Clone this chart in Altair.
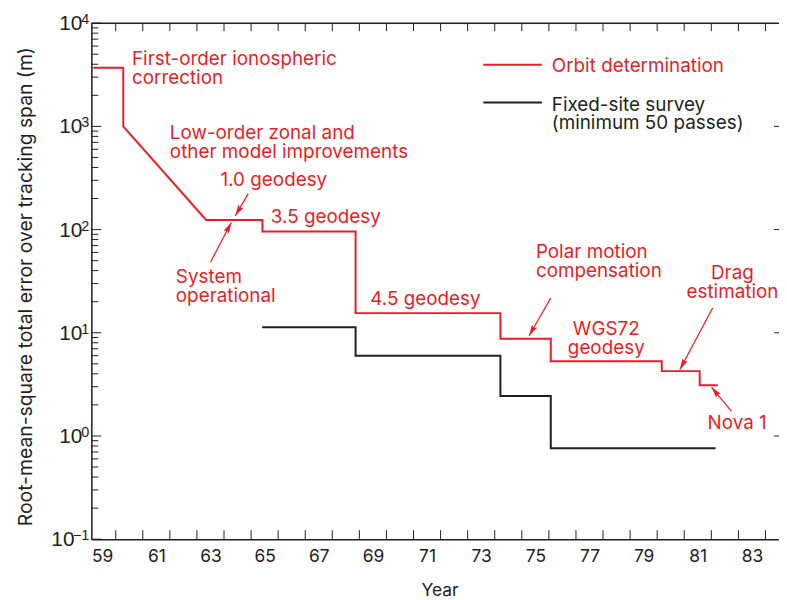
import math
import altair as alt
import pandas as pd

RED = "#ec1c24"
INK = "#231f20"
FONT = "Inter"

# ---- series (year, rms error in m) ----
orbit_year = [58.67, 59.78, 59.78, 62.84, 64.92, 64.92, 68.36, 68.36, 73.71,
              73.71, 75.57, 75.57, 79.67, 79.67, 81.07, 81.07, 81.74]
orbit_err = [3700, 3700, 1000, 124, 124, 96, 96, 15.5, 15.5,
             8.75, 8.75, 5.3, 5.3, 4.25, 4.25, 3.1, 3.1]
survey_year = [64.91, 68.36, 68.36, 73.71, 73.71, 75.57, 75.57, 81.66]
survey_err = [11.3, 11.3, 6.0, 6.0, 2.44, 2.44, 0.76, 0.76]

series_keys = ["orbit", "survey"]
series_labels = ["Orbit determination", "Fixed-site survey\n(minimum 50 passes)"]
series_colors = [RED, INK]

# ---- axes ----
x_domain = [58.6, 84.0]
y_domain = [0.1, 10000]
x_label_years = [59, 61, 63, 65, 67, 69, 71, 73, 75, 77, 79, 81, 83]
x_tick_years = [59.5, 60.5, 61.5, 62.5, 63.5, 64.5, 65.5, 66.5, 67.5, 68.5, 69.5, 70.5,
                71.5, 72.5, 73.5, 74.5, 75.5, 76.5, 77.5, 78.5, 79.5, 80.5, 81.5, 82.5, 83.5]
y_major = [0.1, 1, 10, 100, 1000, 10000]
y_exponents = ["\u22121", "0", "1", "2", "3", "4"]
y_minor = [m * d for d in [0.1, 1, 10, 100, 1000] for m in [2, 3, 4, 5, 6, 7, 8, 9]]

# ---- annotations ----
left_texts = ["First-order ionospheric\ncorrection",
              "Low-order zonal and\nother model improvements",
              "1.0 geodesy", "3.5 geodesy", "System\noperational", "4.5 geodesy",
              "Polar motion\ncompensation", "Nova 1"]
left_year = [60.10, 61.50, 63.37, 65.23, 61.72, 68.90, 75.02, 81.36]
left_val = [3945, 755, 265, 117, 30.3, 18.6, 52.6, 1.17]

center_texts = ["WGS72\ngeodesy", "Drag\nestimation"]
center_year = [77.62, 82.28]
center_val = [9.57, 33.0]

# arrows: tail -> tip
arrow_tail_year = [64.39, 63.00, 75.57, 81.55, 82.24]
arrow_tail_val = [222, 48.2, 21.7, 17.4, 1.74]
arrow_tip_year = [63.92, 63.77, 74.77, 80.34, 81.51]
arrow_tip_val = [136, 117, 9.35, 4.41, 2.96]

W, H = 693, 520


def xpix(v):
    return (v - x_domain[0]) / (x_domain[1] - x_domain[0]) * W


def ypix(v):
    lo, hi = math.log10(y_domain[0]), math.log10(y_domain[1])
    return (hi - math.log10(v)) / (hi - lo) * H


xs = alt.Scale(domain=x_domain, nice=False, zero=False)
ys = alt.Scale(type="log", domain=y_domain, nice=False)
cs = alt.Scale(domain=series_keys, range=series_colors)

lines_df = pd.DataFrame({
    "year": orbit_year + survey_year,
    "err": orbit_err + survey_err,
    "series": ["orbit"] * len(orbit_year) + ["survey"] * len(survey_year),
    "i": list(range(len(orbit_year))) + list(range(len(survey_year))),
})

x_axis = alt.Axis(values=x_label_years, title="Year", ticks=False, grid=False,
                  domainColor=INK, domainWidth=1.5, labelFont=FONT, labelFontSize=17.5,
                  labelColor=INK, labelPadding=9, labelFlush=False, format="d",
                  titleFont=FONT, titleFontSize=17.5, titleFontWeight="normal",
                  titleColor=INK, titleY=57, titleX=351, titleBaseline="alphabetic")
y_axis = alt.Axis(values=y_major, title="Root-mean-square total error over tracking span (m)",
                  ticks=False, grid=False, domainColor=INK, domainWidth=1.5,
                  labels=False,
                  titleFont=FONT, titleFontSize=19.5, titleFontWeight="normal",
                  titleColor=INK, titleX=-60, titleY=265, titleAngle=-90,
                  titleAlign="center", titleBaseline="alphabetic")

lines = alt.Chart(lines_df).mark_line(strokeWidth=2, strokeJoin="miter", strokeCap="butt").encode(
    x=alt.X("year:Q", scale=xs, axis=x_axis),
    y=alt.Y("err:Q", scale=ys, axis=y_axis),
    color=alt.Color("series:N", scale=cs, legend=None),
    detail="series:N",
    order="i:Q",
)

# inward tick marks
xt_df = pd.DataFrame({"year": x_tick_years})
bottom_ticks = alt.Chart(xt_df).mark_rule(color=INK, strokeWidth=1).encode(
    x=alt.X("year:Q", scale=xs), y=alt.value(H), y2=alt.value(H - 9))
top_ticks = alt.Chart(xt_df).mark_rule(color=INK, strokeWidth=1).encode(
    x=alt.X("year:Q", scale=xs), y=alt.value(0), y2=alt.value(8))
ymaj_df = pd.DataFrame({"v": y_major, "e": y_exponents})
ymin_df = pd.DataFrame({"v": y_minor})
left_major = alt.Chart(ymaj_df).mark_rule(color=INK, strokeWidth=1).encode(
    y=alt.Y("v:Q", scale=ys), x=alt.value(0), x2=alt.value(10))
left_minor = alt.Chart(ymin_df).mark_rule(color=INK, strokeWidth=1).encode(
    y=alt.Y("v:Q", scale=ys), x=alt.value(0), x2=alt.value(7))
right_major = alt.Chart(ymaj_df[(ymaj_df.v > 0.1) & (ymaj_df.v < 10000)]).mark_rule(
    color=INK, strokeWidth=1).encode(
    y=alt.Y("v:Q", scale=ys), x=alt.value(W - 5), x2=alt.value(W))
top_line = alt.Chart(xt_df.head(1)).mark_rule(color=INK, strokeWidth=1.5).encode(
    x=alt.value(0), x2=alt.value(W), y=alt.value(0))

# y tick labels as 10 with raised exponent
lab_kw = dict(font="Liberation Sans", color=INK, baseline="alphabetic")
pos_df = ymaj_df[ymaj_df.v >= 1]
neg_df = ymaj_df[ymaj_df.v < 1]
ten_pos = alt.Chart(pos_df).mark_text(align="right", fontSize=21, dy=7, **lab_kw).encode(
    y=alt.Y("v:Q", scale=ys), x=alt.value(-9), text=alt.value("10"))
ten_neg = alt.Chart(neg_df).mark_text(align="right", fontSize=21, dy=7, **lab_kw).encode(
    y=alt.Y("v:Q", scale=ys), x=alt.value(-17), text=alt.value("10"))
exps = alt.Chart(ymaj_df).mark_text(align="right", fontSize=14.5, dy=1, **lab_kw).encode(
    y=alt.Y("v:Q", scale=ys), x=alt.value(-2), text="e:N")

# annotations
lt_df = pd.DataFrame({"t": left_texts, "year": left_year, "err": left_val})
ct_df = pd.DataFrame({"t": center_texts, "year": center_year, "err": center_val})
txt_kw = dict(font=FONT, fontSize=19, color=RED, lineBreak="\n", lineHeight=19,
              baseline="alphabetic")
left_text = alt.Chart(lt_df).mark_text(align="left", **txt_kw).encode(
    x=alt.X("year:Q", scale=xs), y=alt.Y("err:Q", scale=ys), text="t:N")
center_text = alt.Chart(ct_df).mark_text(align="center", **txt_kw).encode(
    x=alt.X("year:Q", scale=xs), y=alt.Y("err:Q", scale=ys), text="t:N")

angles = []
for ty, tv, hy, hv in zip(arrow_tail_year, arrow_tail_val, arrow_tip_year, arrow_tip_val):
    dx = xpix(hy) - xpix(ty)
    dy = ypix(hv) - ypix(tv)
    angles.append(math.degrees(math.atan2(dx, -dy)) % 360)

ar_df = pd.DataFrame({"y0": arrow_tail_year, "v0": arrow_tail_val,
                      "y1": arrow_tip_year, "v1": arrow_tip_val, "ang": angles})
shafts = alt.Chart(ar_df).mark_rule(color=RED, strokeWidth=1.3).encode(
    x=alt.X("y0:Q", scale=xs), y=alt.Y("v0:Q", scale=ys),
    x2="y1:Q", y2="v1:Q")
heads = alt.Chart(ar_df).mark_point(
    shape="M0,0L0.55,2L0,1.7L-0.55,2Z", filled=True, opacity=1, color=RED,
    size=121, strokeWidth=0).encode(
    x=alt.X("y1:Q", scale=xs), y=alt.Y("v1:Q", scale=ys),
    angle=alt.Angle("ang:Q", scale=None))

# legend
legend_layers = []
for k, (key, lab) in enumerate(zip(series_keys, series_labels)):
    ldf = pd.DataFrame({"series": [key], "label": [lab]})
    legend_layers.append(alt.Chart(ldf).mark_rule(strokeWidth=2).encode(
        x=alt.value(395), x2=alt.value(454), y=alt.value(42 + 38 * k),
        color=alt.Color("series:N", scale=cs, legend=None)))
    legend_layers.append(alt.Chart(ldf).mark_text(
        align="left", baseline="alphabetic", font=FONT, fontSize=19,
        lineBreak="\n", lineHeight=18.5).encode(
        x=alt.value(464), y=alt.value(49 + 39 * k), text="label:N",
        color=alt.Color("series:N", scale=cs, legend=None)))

chart = alt.layer(
    top_line, bottom_ticks, top_ticks, left_major, left_minor, right_major,
    ten_pos, ten_neg, exps,
    lines, shafts, heads, left_text, center_text, *legend_layers
).properties(
    width=W, height=H,
    autosize=alt.AutoSizeParams(type="none"),
    padding={"left": 84, "top": 13, "right": 0, "bottom": 58},
).configure_view(stroke=None).configure(background="white")

chart.save("out.html", embed_options={"renderer": "svg", "actions": False})
